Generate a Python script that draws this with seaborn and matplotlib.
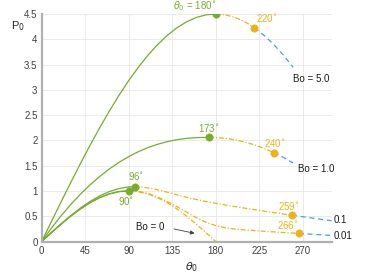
import numpy as np
import pandas as pd
import seaborn as sns
import matplotlib.pyplot as plt

sns.set_style(style='whitegrid')
plt.rcParams['font.family'] = ['Liberation Sans', 'DejaVu Sans']

# stable branch (green)
th_g5 = [0, 10, 20, 30, 40, 50, 60, 70, 80, 90, 100, 110, 120, 130, 140, 150, 160, 170, 180]
p_g5 = [0, 0.392, 0.781, 1.165, 1.539, 1.902, 2.25, 2.581, 2.893, 3.182, 3.447, 3.686,
        3.897, 4.078, 4.229, 4.347, 4.432, 4.483, 4.50]
th_g1 = [0, 10, 20, 30, 40, 50, 60, 70, 80, 90, 100, 110, 120, 130, 140, 150, 160, 173]
p_g1 = [0, 0.264, 0.507, 0.731, 0.935, 1.120, 1.286, 1.435, 1.566, 1.679, 1.777, 1.858,
        1.924, 1.976, 2.014, 2.040, 2.055, 2.06]
th_g01 = [0, 10, 20, 30, 40, 50, 60, 70, 80, 90, 96]
p_g01 = [0, 0.177, 0.349, 0.511, 0.661, 0.792, 0.902, 0.988, 1.048, 1.080, 1.085]
th_g001 = [0, 10, 20, 30, 40, 50, 60, 70, 80, 90]
p_g001 = [0, 0.175, 0.344, 0.503, 0.646, 0.770, 0.870, 0.944, 0.990, 1.005]
th_g0 = [0, 10, 20, 30, 40, 50, 60, 70, 80, 90]
p_g0 = [0, 0.174, 0.342, 0.5, 0.643, 0.766, 0.866, 0.940, 0.985, 1.0]

# second branch (orange dash-dot)
th_o5 = [180, 190, 200, 210, 220]
p_o5 = [4.50, 4.483, 4.432, 4.347, 4.229]
th_o1 = [173, 180, 190, 200, 210, 220, 230, 240]
p_o1 = [2.06, 2.057, 2.041, 2.011, 1.968, 1.912, 1.843, 1.76]
th_o01 = [96, 105, 115, 125, 135, 145, 155, 165, 180, 200, 220, 240, 259]
p_o01 = [1.085, 1.075, 1.045, 1.0, 0.948, 0.898, 0.852, 0.81, 0.755, 0.69, 0.63, 0.573, 0.52]
th_o001 = [90, 100, 110, 120, 130, 140, 150, 160, 170, 180, 190, 200, 215, 230, 245, 266]
p_o001 = [1.005, 0.99, 0.95, 0.88, 0.79, 0.69, 0.58, 0.47, 0.38, 0.315, 0.27, 0.245,
          0.222, 0.202, 0.184, 0.16]
th_o0 = [90, 100, 110, 120, 130, 140, 150, 160, 170, 180]
p_o0 = [1.0, 0.985, 0.940, 0.866, 0.766, 0.643, 0.5, 0.342, 0.174, 0]

# third branch (blue dashed)
th_b5 = [220, 230, 240, 250, 260]
p_b5 = [4.229, 4.078, 3.897, 3.686, 3.447]
th_b1 = [240, 250, 260]
p_b1 = [1.76, 1.664, 1.554]
th_b01 = [259, 270, 285, 300]
p_b01 = [0.52, 0.49, 0.45, 0.41]
th_b001 = [266, 280, 290, 300]
p_b001 = [0.16, 0.143, 0.131, 0.12]

# marked points
g_pts_th = [180, 173, 96, 90]
g_pts_p = [4.50, 2.06, 1.085, 1.005]
o_pts_th = [220, 240, 259, 266]
o_pts_p = [4.229, 1.76, 0.52, 0.16]

green = '#77ac30'
orange = '#edb120'
blue = '#4a9fd8'

fig = plt.figure(figsize=(3.74, 2.8), dpi=100)
ax = fig.add_axes([0.1115, 0.1375, 0.7755, 0.8125])

for th, p in [(th_g5, p_g5), (th_g1, p_g1), (th_g01, p_g01), (th_g001, p_g001), (th_g0, p_g0)]:
    d = pd.DataFrame({'th': th, 'p': p})
    sns.lineplot(data=d, x='th', y='p', color=green, lw=0.9, sort=False, estimator=None, ax=ax)

for th, p in [(th_o5, p_o5), (th_o1, p_o1), (th_o01, p_o01), (th_o001, p_o001), (th_o0, p_o0)]:
    d = pd.DataFrame({'th': th, 'p': p})
    sns.lineplot(data=d, x='th', y='p', color=orange, lw=0.9, sort=False, estimator=None,
                 ax=ax, linestyle=(0, (4, 1.5, 1, 1.5)))

for th, p in [(th_b5, p_b5), (th_b1, p_b1), (th_b01, p_b01), (th_b001, p_b001)]:
    d = pd.DataFrame({'th': th, 'p': p})
    sns.lineplot(data=d, x='th', y='p', color=blue, lw=0.9, sort=False, estimator=None,
                 ax=ax, linestyle=(0, (4, 3)))

sns.scatterplot(x=g_pts_th, y=g_pts_p, color=green, s=28, edgecolor=green, zorder=5, ax=ax)
sns.scatterplot(x=o_pts_th, y=o_pts_p, color=orange, s=28, edgecolor=orange, zorder=5, ax=ax)

ax.set_xlim(0, 300)
ax.set_ylim(0, 4.5)
ax.set_xticks([0, 45, 90, 135, 180, 225, 270])
ax.set_yticks([0, 0.5, 1, 1.5, 2, 2.5, 3, 3.5, 4, 4.5])
ax.set_yticklabels(['0', '0.5', '1', '1.5', '2', '2.5', '3', '3.5', '4', '4.5'])
ax.tick_params(labelsize=7, colors='#404040', direction='in', length=2.5, width=0.6, pad=3)
ax.grid(True, color='#e6e6e6', lw=0.6)
for s in ['top', 'right']:
    ax.spines[s].set_visible(False)
for s in ['left', 'bottom']:
    ax.spines[s].set_color('#b0b0b0')
    ax.spines[s].set_linewidth(1.6)
ax.set_xlabel('')
ax.set_ylabel('')

ax.text(155, -0.36, r'$\theta_0$', fontsize=8, ha='center', va='top', color='#262626', clip_on=False)
ax.text(-17, 4.27, r'P$_0$', fontsize=8, ha='right', va='center', color='#262626', clip_on=False)

fs = 7
ax.text(158, 4.52, r'$\theta_0$ = 180$^{\circ}$', color=green, fontsize=fs, ha='center', va='bottom', clip_on=False)
ax.text(222, 4.3, r'220$^{\circ}$', color=orange, fontsize=fs, ha='left', va='bottom')
ax.text(260, 3.22, 'Bo = 5.0', color='#1a1a1a', fontsize=fs, ha='left', va='center')
ax.text(173, 2.13, r'173$^{\circ}$', color=green, fontsize=fs, ha='center', va='bottom')
ax.text(241, 1.83, r'240$^{\circ}$', color=orange, fontsize=fs, ha='center', va='bottom')
ax.text(265.5, 1.43, 'Bo = 1.0', color='#1a1a1a', fontsize=fs, ha='left', va='center')
ax.text(256, 0.58, r'259$^{\circ}$', color=orange, fontsize=fs, ha='center', va='bottom')
ax.text(255, 0.20, r'266$^{\circ}$', color=orange, fontsize=fs, ha='center', va='bottom')
ax.text(301.5, 0.43, '0.1', color='#1a1a1a', fontsize=fs, ha='left', va='center', clip_on=False)
ax.text(301.5, 0.11, '0.01', color='#1a1a1a', fontsize=fs, ha='left', va='center', clip_on=False)
ax.text(98, 1.17, r'96$^{\circ}$', color=green, fontsize=fs, ha='center', va='bottom')
ax.text(87.5, 0.80, r'90$^{\circ}$', color=green, fontsize=fs, ha='center', va='center')
ax.text(98, 0.29, 'Bo = 0', color='#1a1a1a', fontsize=fs, ha='left', va='center')
ax.annotate('', xy=(161, 0.15), xytext=(134, 0.26),
            arrowprops=dict(arrowstyle='-|>', color='#404040', lw=0.6, mutation_scale=6))

fig.savefig('out.png', dpi=100)
